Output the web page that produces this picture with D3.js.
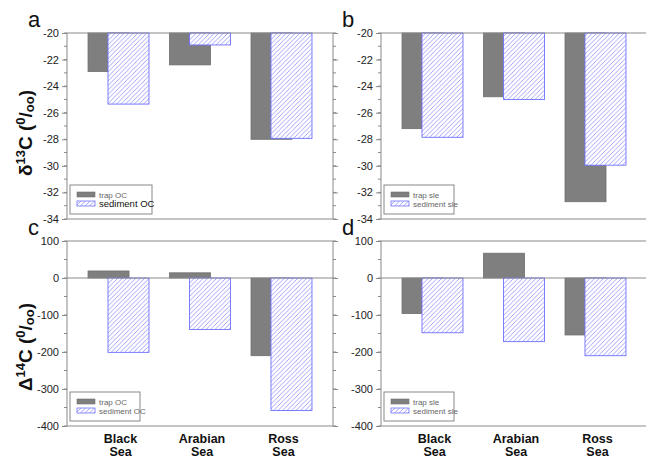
<!DOCTYPE html>
<html>
<head>
<meta charset="utf-8">
<script src="https://cdn.jsdelivr.net/npm/d3@7"></script>
<style>
  body { margin: 0; background: #fff; }
  svg { font-family: Arial, "Liberation Sans", sans-serif; }
</style>
</head>
<body>
<div id="chart"></div>
<script>
// values
var categories = ["Black Sea", "Arabian Sea", "Ross Sea"];
var trapOC13   = [-22.9, -22.4, -28.0];
var sedOC13    = [-25.35, -20.9, -27.93];
var trapSle13  = [-27.2, -24.8, -32.7];
var sedSle13   = [-27.85, -25.0, -29.95];
var trapOC14   = [19, 14, -210];
var sedOC14    = [-201, -139, -358];
var trapSle14  = [-96, 67, -154];
var sedSle14   = [-148, -172, -210];
var d13Ticks   = [-20, -22, -24, -26, -28, -30, -32, -34];
var d14Ticks   = [100, 0, -100, -200, -300, -400];

var W = 646, H = 458;
var svg = d3.select("#chart").append("svg")
    .attr("width", W).attr("height", H);

// hatch for the sediment bars
svg.append("defs").append("pattern")
    .attr("id", "hatch")
    .attr("patternUnits", "userSpaceOnUse")
    .attr("width", 4.5).attr("height", 4.5)
    .append("path")
    .attr("d", "M0,4.5L4.5,0M-1,1L1,-1M3.5,5.5L5.5,3.5")
    .attr("stroke", "#8c8cff")
    .attr("stroke-width", 0.8);

var cols = [[67, 333], [381, 647]];
var rows = [[33, 219], [241, 426]];

var panels = [
    { tag: "a", col: 0, row: 0, trap: trapOC13, sed: sedOC13, ticks: d13Ticks, dom: [-34, -20], base: -20, minor: 1, leg: ["trap OC", "sediment OC"], boldSed: true },
    { tag: "b", col: 1, row: 0, trap: trapSle13, sed: sedSle13, ticks: d13Ticks, dom: [-34, -20], base: -20, minor: 1, leg: ["trap sle", "sediment sle"] },
    { tag: "c", col: 0, row: 1, trap: trapOC14, sed: sedOC14, ticks: d14Ticks, dom: [-400, 100], base: 0, minor: 50, leg: ["trap OC", "sediment OC"], zero: true },
    { tag: "d", col: 1, row: 1, trap: trapSle14, sed: sedSle14, ticks: d14Ticks, dom: [-400, 100], base: 0, minor: 50, leg: ["trap sle", "sediment sle"], zero: true }
];

var frameCol = "#8a8a8a";

panels.forEach(function (p) {
    var x0 = cols[p.col][0], x1 = cols[p.col][1];
    var y0 = rows[p.row][0], y1 = rows[p.row][1];

    var x = d3.scalePoint().domain(categories).range([x0, x1]).padding(0.632);
    var y = d3.scaleLinear().domain(p.dom).range([y1, y0]);
    var step = x.step(), bw = step * 0.503;

    var g = svg.append("g");

    // minor ticks, left and right
    var minors = d3.range(p.dom[0], p.dom[1] + 0.001, p.minor);
    g.selectAll(".mn").data(minors).enter().append("line")
        .attr("x1", x0 - 3).attr("x2", x0)
        .attr("y1", function (d) { return y(d); })
        .attr("y2", function (d) { return y(d); })
        .attr("stroke", frameCol);
    g.selectAll(".mnr").data(minors).enter().append("line")
        .attr("x1", x1).attr("x2", x1 + 3)
        .attr("y1", function (d) { return y(d); })
        .attr("y2", function (d) { return y(d); })
        .attr("stroke", frameCol);

    // left axis
    var ax = g.append("g")
        .attr("transform", "translate(" + x0 + ",0)")
        .call(d3.axisLeft(y).tickValues(p.ticks).tickSize(5).tickPadding(3)
            .tickFormat(function (d) { return String(d).replace("\u2212", "-"); }));
    ax.select(".domain").remove();
    ax.selectAll("line").attr("stroke", frameCol);
    ax.selectAll("text").attr("font-size", 11).attr("fill", "#222")
        .attr("font-family", "Arial, 'Liberation Sans', sans-serif");

    // right axis ticks
    var axr = g.append("g")
        .attr("transform", "translate(" + x1 + ",0)")
        .call(d3.axisRight(y).tickValues(p.ticks).tickSize(5).tickFormat(""));
    axr.select(".domain").remove();
    axr.selectAll("line").attr("stroke", frameCol);

    // trap bars
    g.selectAll(".trap").data(p.trap).enter().append("rect")
        .attr("x", function (d, i) { return x(categories[i]) - step * 0.374; })
        .attr("width", bw)
        .attr("y", function (d) { return Math.min(y(d), y(p.base)); })
        .attr("height", function (d) { return Math.abs(y(d) - y(p.base)); })
        .attr("fill", "#7f7f7f")
        .attr("stroke", "#6e6e6e").attr("stroke-width", 0.8);

    // sediment bars
    g.selectAll(".sed").data(p.sed).enter().append("rect")
        .attr("x", function (d, i) { return x(categories[i]) - step * 0.129; })
        .attr("width", bw)
        .attr("y", function (d) { return Math.min(y(d), y(p.base)); })
        .attr("height", function (d) { return Math.abs(y(d) - y(p.base)); })
        .attr("fill", "#fff");
    g.selectAll(".sedh").data(p.sed).enter().append("rect")
        .attr("x", function (d, i) { return x(categories[i]) - step * 0.129; })
        .attr("width", bw)
        .attr("y", function (d) { return Math.min(y(d), y(p.base)); })
        .attr("height", function (d) { return Math.abs(y(d) - y(p.base)); })
        .attr("fill", "url(#hatch)")
        .attr("stroke", "#6f6fff").attr("stroke-width", 0.9);

    // zero line
    if (p.zero) {
        g.append("line")
            .attr("x1", x0).attr("x2", x1)
            .attr("y1", y(0)).attr("y2", y(0))
            .attr("stroke", frameCol);
    }

    // frame
    g.append("rect")
        .attr("x", x0).attr("y", y0)
        .attr("width", x1 - x0).attr("height", y1 - y0)
        .attr("fill", "none").attr("stroke", frameCol);

    // panel letter
    svg.append("text")
        .attr("x", x0 - 39).attr("y", y0 - 6)
        .attr("font-size", 22).attr("fill", "#111")
        .text(p.tag);

    // legend
    var lx = x0 + 3, ly = y1 - 34;
    var lw = p.boldSed ? 82 : 70;
    var lg = g.append("g").attr("transform", "translate(" + lx + "," + ly + ")");
    lg.append("rect").attr("width", lw).attr("height", 29)
        .attr("fill", "#fff").attr("stroke", "#888");
    lg.append("rect").attr("x", 7).attr("y", 7).attr("width", 18).attr("height", 5)
        .attr("fill", "#7f7f7f").attr("stroke", "#6e6e6e").attr("stroke-width", 0.6);
    lg.append("rect").attr("x", 7).attr("y", 16).attr("width", 18).attr("height", 5)
        .attr("fill", "url(#hatch)").attr("stroke", "#6f6fff").attr("stroke-width", 0.8);
    lg.append("text").attr("x", 29).attr("y", 12.5)
        .attr("font-size", 8).attr("fill", "#666").text(p.leg[0]);
    lg.append("text").attr("x", 29).attr("y", 22)
        .attr("font-size", p.boldSed ? 9.5 : 8)
        .attr("fill", p.boldSed ? "#111" : "#666")
        .text(p.leg[1]);

    // category labels under bottom panels
    if (p.row === 1) {
        var lab = svg.append("g").selectAll("text").data(categories).enter().append("text")
            .attr("x", function (d) { return x(d) + 2; })
            .attr("y", 443)
            .attr("text-anchor", "middle")
            .attr("font-size", 12.5).attr("font-weight", "bold").attr("fill", "#111");
        lab.append("tspan").text(function (d) { return d.split(" ")[0]; });
        lab.append("tspan").attr("x", function (d) { return x(d) + 2; }).attr("dy", 13)
            .text(function (d) { return d.split(" ")[1]; });
    }
});

// y titles
function yTitle(cy, sym, iso) {
    var t = svg.append("text")
        .attr("transform", "translate(32," + cy + ") rotate(-90)")
        .attr("text-anchor", "middle")
        .attr("font-size", 19).attr("font-weight", "bold").attr("fill", "#111");
    t.append("tspan").text(sym);
    t.append("tspan").attr("font-size", 13).attr("dy", -7).text(iso);
    t.append("tspan").attr("dy", 7).text("C (");
    t.append("tspan").attr("font-size", 13).attr("dy", -7).text("0");
    t.append("tspan").attr("dy", 7).text("/");
    t.append("tspan").attr("font-size", 13).attr("dy", 2).text("oo");
    t.append("tspan").attr("dy", -2).text(")");
}
yTitle(133, "\u03b4", "13");
yTitle(347, "\u0394", "14");
</script>
</body>
</html>
